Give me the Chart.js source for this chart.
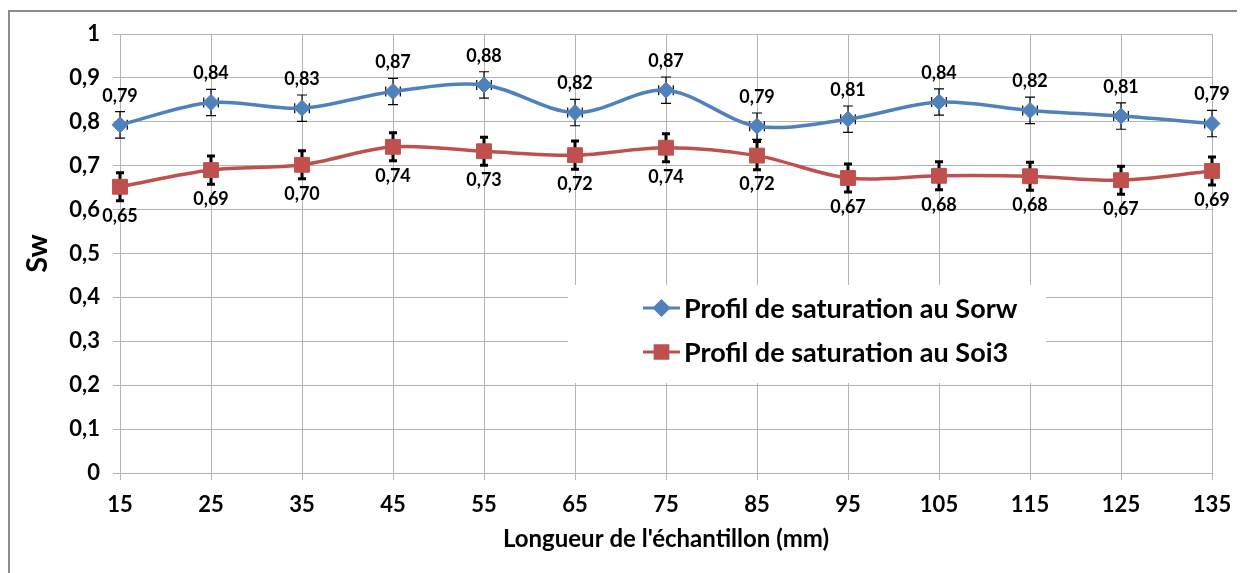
<!DOCTYPE html>
<html>
<head>
<meta charset="utf-8">
<script src="https://cdn.jsdelivr.net/npm/chart.js@4/dist/chart.umd.min.js"></script>
<style>
  html, body { margin: 0; padding: 0; background: #fff; }
  #wrap { width: 1247px; height: 573px; position: relative; }
</style>
</head>
<body>
<div id="wrap"><canvas id="chart"></canvas></div>
<script>
const positions = [15, 25, 35, 45, 55, 65, 75, 85, 95, 105, 115, 125, 135];

const sorwName = "Profil de saturation au Sorw";
const sorwValues = [0.793, 0.844, 0.831, 0.869, 0.884, 0.821, 0.872, 0.790, 0.806, 0.845, 0.826, 0.813, 0.796];
const sorwLabels = ["0,79", "0,84", "0,83", "0,87", "0,88", "0,82", "0,87", "0,79", "0,81", "0,84", "0,82", "0,81", "0,79"];
const sorwErrors = [0.03, 0.03, 0.03, 0.03, 0.03, 0.03, 0.03, 0.03, 0.03, 0.03, 0.03, 0.03, 0.03];

const soi3Name = "Profil de saturation au Soi3";
const soi3Values = [0.652, 0.690, 0.702, 0.743, 0.733, 0.724, 0.741, 0.723, 0.672, 0.677, 0.676, 0.667, 0.688];
const soi3Labels = ["0,65", "0,69", "0,70", "0,74", "0,73", "0,72", "0,74", "0,72", "0,67", "0,68", "0,68", "0,67", "0,69"];
const soi3Errors = [0.032, 0.032, 0.032, 0.032, 0.032, 0.032, 0.032, 0.032, 0.032, 0.032, 0.032, 0.032, 0.032];

const xError = 0.8;

const FONT = "Lato";
const BLUE = "#4f81bd";
const RED = "#c0504d";
const GRID = "#b4b4b4";

const seriesStyle = [
  { errors: sorwErrors, labels: sorwLabels, lineWidth: 1.2, cap: 5, xErr: true, labelOffset: -29 },
  { errors: soi3Errors, labels: soi3Labels, lineWidth: 3, cap: 4, xErr: false, labelOffset: 29 }
];

const errorBars = {
  id: "errorBars",
  beforeDatasetsDraw(chart) {
    const { ctx, scales: { x, y } } = chart;
    ctx.save();
    ctx.strokeStyle = "#000";
    chart.data.datasets.forEach((ds, d) => {
      const spec = seriesStyle[d];
      ctx.lineWidth = spec.lineWidth;
      ds.data.forEach((pt, i) => {
        const px = x.getPixelForValue(pt.x);
        const py = y.getPixelForValue(pt.y);
        const top = y.getPixelForValue(pt.y + spec.errors[i]);
        const bottom = y.getPixelForValue(pt.y - spec.errors[i]);
        ctx.beginPath();
        ctx.moveTo(px, top);
        ctx.lineTo(px, bottom);
        ctx.moveTo(px - spec.cap, top);
        ctx.lineTo(px + spec.cap, top);
        ctx.moveTo(px - spec.cap, bottom);
        ctx.lineTo(px + spec.cap, bottom);
        if (spec.xErr) {
          const left = x.getPixelForValue(pt.x - xError);
          const right = x.getPixelForValue(pt.x + xError);
          ctx.moveTo(Math.max(left, x.left), py);
          ctx.lineTo(Math.min(right, x.right), py);
          if (left >= x.left) {
            ctx.moveTo(left, py - 5);
            ctx.lineTo(left, py + 5);
          }
          if (right <= x.right) {
            ctx.moveTo(right, py - 5);
            ctx.lineTo(right, py + 5);
          }
        }
        ctx.stroke();
      });
    });
    ctx.restore();
  },
  afterDatasetsDraw(chart) {
    const { ctx } = chart;
    ctx.save();

    // value labels
    ctx.fillStyle = "#000";
    ctx.font = `bold 18px ${FONT}`;
    ctx.textAlign = "center";
    ctx.textBaseline = "middle";
    chart.data.datasets.forEach((ds, d) => {
      const spec = seriesStyle[d];
      chart.getDatasetMeta(d).data.forEach((el, i) => {
        ctx.fillText(spec.labels[i], el.x, el.y + spec.labelOffset);
      });
    });

    // legend inside plot
    const boxLeft = 568, boxTop = 285, boxRight = 1046, boxBottom = 383;
    ctx.fillStyle = "#fff";
    ctx.fillRect(boxLeft, boxTop, boxRight - boxLeft, boxBottom - boxTop);
    const rows = [308, 352];
    ctx.font = `bold 27px ${FONT}`;
    ctx.textAlign = "left";
    chart.data.datasets.forEach((ds, d) => {
      const yy = rows[d];
      ctx.strokeStyle = ds.borderColor;
      ctx.lineWidth = 3;
      ctx.beginPath();
      ctx.moveTo(643, yy);
      ctx.lineTo(680, yy);
      ctx.stroke();
      ctx.fillStyle = ds.pointBackgroundColor;
      ctx.strokeStyle = ds.pointBorderColor;
      Chart.helpers.drawPoint(ctx, {
        pointStyle: ds.pointStyle,
        radius: d === 0 ? 7 : 9,
        rotation: 0,
        borderWidth: 1
      }, 661.5, yy);
      ctx.fillStyle = "#000";
      ctx.fillText(ds.label, 684, yy + 1);
    });
    ctx.restore();
  },
  afterDraw(chart) {
    const { ctx } = chart;
    ctx.save();
    ctx.strokeStyle = "#8c8c8c";
    ctx.lineWidth = 2;
    ctx.beginPath();
    ctx.moveTo(9, 573);
    ctx.lineTo(9, 11);
    ctx.lineTo(1237, 11);
    ctx.stroke();
    ctx.restore();
  }
};

function commaFormat(v) {
  return Number(v.toFixed(1)).toString().replace(".", ",");
}

new Chart(document.getElementById("chart"), {
  type: "line",
  data: {
    datasets: [
      {
        label: sorwName,
        data: positions.map((x, i) => ({ x, y: sorwValues[i] })),
        borderColor: BLUE,
        borderWidth: 3.5,
        pointStyle: "rectRot",
        pointRadius: 8,
        pointBackgroundColor: BLUE,
        pointBorderColor: BLUE,
        pointBorderWidth: 1,
        tension: 0.33,
        fill: false
      },
      {
        label: soi3Name,
        data: positions.map((x, i) => ({ x, y: soi3Values[i] })),
        borderColor: RED,
        borderWidth: 3.5,
        pointStyle: "rect",
        pointRadius: 10.5,
        pointBackgroundColor: RED,
        pointBorderColor: RED,
        pointBorderWidth: 1,
        tension: 0.33,
        fill: false
      }
    ]
  },
  options: {
    responsive: true,
    maintainAspectRatio: false,
    animation: false,
    clip: false,
    layout: {
      padding: { left: 0, right: 35, top: 34, bottom: 0 }
    },
    plugins: {
      legend: { display: false },
      tooltip: { enabled: false }
    },
    scales: {
      x: {
        type: "linear",
        min: 15,
        max: 135,
        afterFit(scale) {
          scale.height = 100;
        },
        ticks: {
          stepSize: 10,
          padding: 12,
          color: "#000",
          font: { family: FONT, size: 22, weight: "bold" }
        },
        grid: {
          color: GRID,
          lineWidth: 1,
          tickLength: 7
        },
        border: { color: GRID },
        title: {
          display: true,
          text: "Longueur de l'échantillon (mm)",
          color: "#000",
          font: { family: FONT, size: 24, weight: "bold" },
          padding: { top: 0, bottom: 19 }
        }
      },
      y: {
        min: 0,
        max: 1,
        afterFit(scale) {
          scale.width = 120;
        },
        ticks: {
          stepSize: 0.1,
          padding: 13,
          color: "#000",
          font: { family: FONT, size: 22, weight: "bold" },
          callback: (v) => commaFormat(v)
        },
        grid: {
          color: GRID,
          lineWidth: 1,
          tickLength: 7
        },
        border: { color: GRID },
        title: {
          display: true,
          text: "Sw",
          color: "#000",
          font: { family: FONT, size: 29, weight: "bold" },
          padding: { top: 20, bottom: 0 }
        }
      }
    }
  },
  plugins: [errorBars]
});
</script>
</body>
</html>
